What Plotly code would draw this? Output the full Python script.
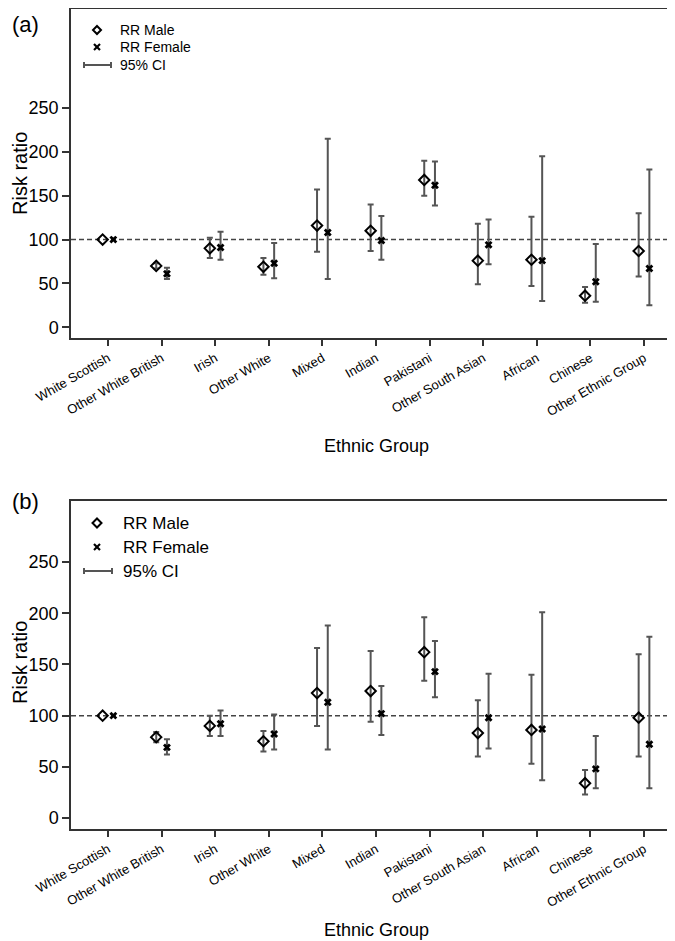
import numpy as np
import plotly.graph_objects as go

# ---------------- data ----------------
categories = ["White Scottish", "Other White British", "Irish", "Other White", "Mixed",
              "Indian", "Pakistani", "Other South Asian", "African", "Chinese",
              "Other Ethnic Group"]

# Panel (a)
a_male = [100, 70, 90, 69, 116, 110, 168, 76, 77, 36, 87]
a_male_lo = [None, 67, 79, 60, 86, 87, 150, 49, 47, 28, 58]
a_male_hi = [None, 73, 102, 79, 157, 140, 190, 118, 126, 46, 130]
a_female = [100, 61, 91, 73, 108, 99, 162, 94, 76, 52, 67]
a_female_lo = [None, 55, 77, 56, 55, 77, 139, 72, 30, 29, 25]
a_female_hi = [None, 68, 109, 96, 215, 127, 189, 123, 195, 95, 180]

# Panel (b)
b_male = [100, 79, 90, 75, 122, 124, 162, 83, 86, 34, 98]
b_male_lo = [None, 74, 80, 65, 90, 94, 134, 60, 53, 23, 60]
b_male_hi = [None, 84, 100, 85, 166, 163, 196, 115, 140, 47, 160]
b_female = [100, 69, 92, 82, 113, 102, 143, 98, 87, 48, 72]
b_female_lo = [None, 62, 80, 67, 67, 81, 118, 68, 37, 29, 29]
b_female_hi = [None, 77, 105, 101, 188, 129, 173, 141, 201, 80, 177]

y_ticks = [0, 50, 100, 150, 200, 250]
reference_value = 100

# ---------------- styling ----------------
W, H = 675, 941
FONT = "Arial, Liberation Sans, sans-serif"
ERR_COLOR = "#555555"
AX_COLOR = "#333333"
OFF = 0.1


def px(x):
    return x / W


def py(y):
    return 1 - y / H


fig = go.Figure()
idx = np.arange(len(categories))


def add_series(values, lo, hi, xs, symbol, size, lw, xa, ya):
    keep = [i for i in range(len(values)) if lo[i] is not None]
    fig.add_trace(go.Scatter(
        x=[xs[i] for i in keep], y=[values[i] for i in keep], mode="markers",
        marker=dict(size=1, opacity=0), xaxis=xa, yaxis=ya, showlegend=False,
        hoverinfo="skip",
        error_y=dict(type="data", symmetric=False,
                     array=[hi[i] - values[i] for i in keep],
                     arrayminus=[values[i] - lo[i] for i in keep],
                     color=ERR_COLOR, thickness=2, width=3)))
    fig.add_trace(go.Scatter(
        x=xs, y=values, mode="markers", xaxis=xa, yaxis=ya, showlegend=False,
        marker=dict(symbol=symbol, size=size, color="black",
                    line=dict(color="black", width=lw))))


add_series(a_male, a_male_lo, a_male_hi, idx - OFF, "diamond-open", 8, 2, "x", "y")
add_series(a_female, a_female_lo, a_female_hi, idx + OFF, "x", 7, 0, "x", "y")
add_series(b_male, b_male_lo, b_male_hi, idx - OFF, "diamond-open", 8, 2, "x2", "y2")
add_series(b_female, b_female_lo, b_female_hi, idx + OFF, "x", 7, 0, "x2", "y2")

xcommon = dict(range=[-0.69, 10.69], tickvals=list(idx), ticktext=categories,
               tickangle=-30, ticks="outside", ticklen=6, tickwidth=1.5,
               tickcolor=AX_COLOR, showline=True, linecolor=AX_COLOR, linewidth=1.5,
               mirror=True, showgrid=False, zeroline=False,
               tickfont=dict(family=FONT, size=13, color="black"),
               domain=[px(63), px(673)], automargin=False)
ycommon = dict(tickvals=y_ticks, ticks="outside", ticklen=7, tickwidth=1.5,
               tickcolor=AX_COLOR, showline=True, linecolor=AX_COLOR, linewidth=1.5,
               mirror=True, showgrid=False, zeroline=False,
               tickfont=dict(family=FONT, size=18, color="black"), automargin=False)

shapes = []
annotations = []

for yref, xref in (("y", "x"), ("y2", "x2")):
    shapes.append(dict(type="line", xref=f"{xref} domain", x0=0, x1=1, yref=yref,
                       y0=reference_value, y1=reference_value,
                       line=dict(color="#444444", width=1.5, dash="5px,3px"), layer="below"))


def legend(cx, rows, text_x, fsize, dsize, ci_x0, ci_x1):
    y0, y1, y2 = rows
    d = dsize
    shapes.append(dict(type="path", xref="paper", yref="paper",
                       path=f"M {px(cx)},{py(y0 - d)} L {px(cx + d)},{py(y0)} L {px(cx)},{py(y0 + d)} L {px(cx - d)},{py(y0)} Z",
                       line=dict(color="black", width=2)))
    s = 3
    for sx in (-1, 1):
        shapes.append(dict(type="line", xref="paper", yref="paper",
                           x0=px(cx - s), x1=px(cx + s), y0=py(y1 - s * sx), y1=py(y1 + s * sx),
                           line=dict(color="black", width=2.2)))
    shapes.append(dict(type="line", xref="paper", yref="paper", x0=px(ci_x0), x1=px(ci_x1),
                       y0=py(y2), y1=py(y2), line=dict(color=ERR_COLOR, width=2)))
    for xx in (ci_x0, ci_x1):
        shapes.append(dict(type="line", xref="paper", yref="paper", x0=px(xx), x1=px(xx),
                           y0=py(y2 - 3), y1=py(y2 + 3), line=dict(color=ERR_COLOR, width=2)))
    for t, yy in zip(["RR Male", "RR Female", "95% CI"], rows):
        annotations.append(dict(text=t, xref="paper", yref="paper", x=px(text_x), y=py(yy),
                                xanchor="left", yanchor="middle", showarrow=False,
                                font=dict(family=FONT, size=fsize, color="black")))


legend(89, (22, 39, 57), 110, 14, 4, 76, 103)
legend(89, (515, 539, 563), 113, 17, 4.5, 76, 104)

for lab, yy in (("(a)", 17), ("(b)", 494)):
    annotations.append(dict(text=lab, xref="paper", yref="paper", x=px(2), y=py(yy),
                            xanchor="left", yanchor="middle", showarrow=False,
                            font=dict(family=FONT, size=22, color="black")))
for yy in (166, 655):
    annotations.append(dict(text="Risk ratio", xref="paper", yref="paper", x=px(12), y=py(yy),
                            xanchor="center", yanchor="middle", textangle=-90, showarrow=False,
                            font=dict(family=FONT, size=20, color="black")))
for yy in (438, 922):
    annotations.append(dict(text="Ethnic Group", xref="paper", yref="paper", x=px(368), y=py(yy),
                            xanchor="center", yanchor="middle", showarrow=False,
                            font=dict(family=FONT, size=18, color="black")))

fig.update_layout(
    width=W, height=H, margin=dict(l=0, r=0, t=0, b=0),
    paper_bgcolor="white", plot_bgcolor="white", showlegend=False,
    xaxis=dict(**xcommon, anchor="y"),
    yaxis=dict(**ycommon, anchor="x", domain=[py(330), py(1)], range=[-12.2, 362.9]),
    xaxis2=dict(**xcommon, anchor="y2"),
    yaxis2=dict(**ycommon, anchor="x2", domain=[py(821), py(493)], range=[-10.7, 309.6]),
    shapes=shapes, annotations=annotations,
)

fig.write_html("out.html")
